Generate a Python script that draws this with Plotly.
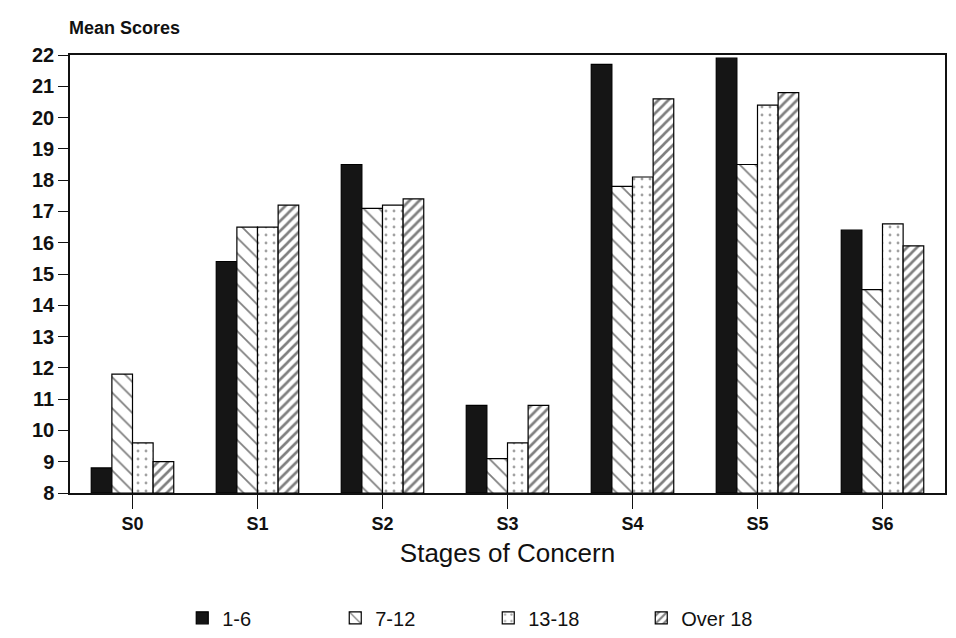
import plotly.graph_objects as go

stages = ["S0", "S1", "S2", "S3", "S4", "S5", "S6"]
grp_1_6 = [8.8, 15.4, 18.5, 10.8, 21.7, 21.9, 16.4]
grp_7_12 = [11.8, 16.5, 17.1, 9.1, 17.8, 18.5, 14.5]
grp_13_18 = [9.6, 16.5, 17.2, 9.6, 18.1, 20.4, 16.6]
grp_over_18 = [9.0, 17.2, 17.4, 10.8, 20.6, 20.8, 15.9]
y_ticks = list(range(8, 23))

FONT = "Liberation Sans, Arial, Helvetica, sans-serif"

series = [
    ("1-6", grp_1_6, dict(color="#151515", line=dict(color="#000", width=1.2))),
    ("7-12", grp_7_12, dict(color="white", line=dict(color="#000", width=1.2),
                            pattern=dict(shape="\\", fgcolor="#000", bgcolor="white",
                                         size=11, solidity=0.16))),
    ("13-18", grp_13_18, dict(color="white", line=dict(color="#000", width=1.2),
                              pattern=dict(shape=".", fgcolor="#444", bgcolor="white",
                                           size=8, solidity=0.1))),
    ("Over 18", grp_over_18, dict(color="white", line=dict(color="#000", width=1.2),
                                  pattern=dict(shape="/", fgcolor="#000", bgcolor="white",
                                               size=7, solidity=0.38))),
]

fig = go.Figure()
for name, vals, marker in series:
    fig.add_trace(go.Bar(
        x=stages, y=[v - 8 for v in vals], base=8, name=name, marker=marker,
        hovertemplate="%{x}: %{customdata}<extra>" + name + "</extra>",
        customdata=vals,
    ))

fig.update_layout(
    width=956, height=638,
    margin=dict(l=70, r=11, t=55, b=145, autoexpand=False),
    paper_bgcolor="white", plot_bgcolor="white",
    barmode="group", bargap=0.34, bargroupgap=0.0,
    font=dict(family=FONT, color="#111"),
    showlegend=True,
    legend=dict(orientation="h", x=0.478, xanchor="center", y=-0.285, yanchor="middle",
                font=dict(size=20, family=FONT, color="#111"),
                entrywidth=108, entrywidthmode="pixels", traceorder="normal"),
    xaxis=dict(
        type="category", showgrid=False, showline=True, linecolor="#111", linewidth=1.5,
        mirror=True, ticks="outside", ticklen=14, tickcolor="#111", automargin=False,
        tickfont=dict(size=18, family=FONT, color="#111"),
        ticktext=[f"<b>{s}</b>" for s in stages], tickvals=stages,
        title=dict(text="Stages of Concern", font=dict(size=26, family=FONT, color="#111"),
                   standoff=10),
    ),
    yaxis=dict(
        range=[8, 22], tickvals=y_ticks, ticktext=[f"<b>{t}</b>" for t in y_ticks],
        showgrid=False, showline=True, linecolor="#111", linewidth=1.5, mirror=True,
        ticks="outside", ticklen=10, tickcolor="#111", automargin=False,
        tickfont=dict(size=20, family=FONT, color="#111"),
        zeroline=False,
    ),
    annotations=[dict(text="<b>Mean Scores</b>", xref="paper", yref="paper",
                      x=-0.003, y=1.0, yshift=27, xanchor="left", yanchor="middle",
                      showarrow=False, font=dict(size=18, family=FONT, color="#111"))],
)

fig.write_html("out.html")
